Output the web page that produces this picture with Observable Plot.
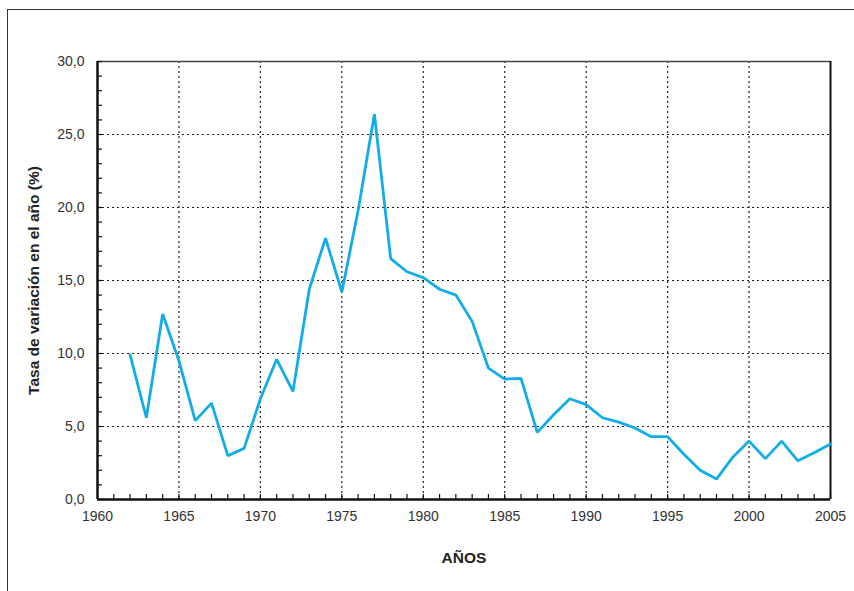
<!DOCTYPE html>
<html>
<head>
<meta charset="utf-8">
<script src="https://cdn.jsdelivr.net/npm/d3@7"></script>
<script src="https://cdn.jsdelivr.net/npm/@observablehq/plot@0.6"></script>
<style>
  html, body { margin: 0; padding: 0; background: #fff; }
  #wrap { position: relative; width: 854px; height: 591px; overflow: hidden; }
  #frame { position: absolute; left: 7px; top: 9px; right: -10px; bottom: -10px;
           border-left: 1.5px solid #333; border-top: 1.5px solid #333; pointer-events: none; }
</style>
</head>
<body>
<div id="wrap"><div id="frame"></div></div>
<script>
const years = [1962,1963,1964,1965,1966,1967,1968,1969,1970,1971,1972,1973,1974,1975,1976,1977,1978,1979,1980,1981,1982,1983,1984,1985,1986,1987,1988,1989,1990,1991,1992,1993,1994,1995,1996,1997,1998,1999,2000,2001,2002,2003,2004,2005];
const rates = [9.9,5.6,12.7,9.5,5.4,6.6,3.0,3.5,6.9,9.6,7.4,14.4,17.9,14.2,19.8,26.4,16.5,15.6,15.2,14.4,14.0,12.2,9.0,8.25,8.3,4.6,5.8,6.9,6.5,5.6,5.3,4.9,4.3,4.3,3.1,2.0,1.4,2.9,4.0,2.8,4.0,2.65,3.2,3.8];
const xTicks = [1960,1965,1970,1975,1980,1985,1990,1995,2000,2005];
const yTicks = [0,5,10,15,20,25,30];
const xLabel = "AÑOS";
const yLabel = "Tasa de variación en el año (%)";

const data = years.map((y, i) => ({year: y, rate: rates[i]}));
const font = "'Liberation Sans', Arial, Helvetica, sans-serif";

const chart = Plot.plot({
  width: 854,
  height: 591,
  marginLeft: 97,
  marginRight: 24,
  marginTop: 61,
  marginBottom: 92,
  style: {fontFamily: font, fontSize: "14px", color: "#333", background: "transparent"},
  x: {domain: [1960, 2005]},
  y: {domain: [0, 30]},
  marks: [
    Plot.gridX(xTicks.slice(1, -1), {stroke: "#222", strokeOpacity: 1, strokeWidth: 1.2, strokeDasharray: "2,3"}),
    Plot.gridY(yTicks.slice(1, -1), {stroke: "#222", strokeOpacity: 1, strokeWidth: 1.2, strokeDasharray: "2,3"}),
    Plot.ruleY([30], {stroke: "#444", strokeWidth: 1.5}),
    Plot.ruleX([2005], {stroke: "#111", strokeWidth: 2}),
    Plot.axisX(d3.range(1960, 2006, 1), {anchor: "bottom", tickSize: -5, text: null, label: null, stroke: "#111", strokeWidth: 1.2}),
    Plot.axisY(d3.range(0, 31, 1), {anchor: "left", tickSize: -5, text: null, label: null, stroke: "#111", strokeWidth: 1.2}),
    Plot.axisX(xTicks, {anchor: "bottom", tickSize: 0, tickPadding: 12, fontSize: 14, tickFormat: d => String(d), fill: "#333",
      label: xLabel, labelAnchor: "center", labelOffset: 63, labelArrow: "none"}),
    Plot.axisY(yTicks, {anchor: "left", tickSize: 0, tickPadding: 13, fontSize: 14, tickFormat: d => d.toFixed(1).replace(".", ","), fill: "#333",
      label: yLabel, labelAnchor: "center", labelOffset: 70, labelArrow: "none"}),
    Plot.ruleY([0], {stroke: "#111", strokeWidth: 2.5}),
    Plot.ruleX([1960], {stroke: "#111", strokeWidth: 2.5}),
    Plot.line(data, {x: "year", y: "rate", stroke: "#12ADE8", strokeWidth: 2.8, strokeLinejoin: "miter"})
  ]
});
d3.select(chart).selectAll("g[aria-label='x-axis label'] text, g[aria-label='y-axis label'] text, g[aria-label='x-axis label'], g[aria-label='y-axis label']")
  .attr("font-weight", "bold").attr("font-size", "15.5px").attr("fill", "#222");
document.getElementById("wrap").prepend(chart);
</script>
</body>
</html>
